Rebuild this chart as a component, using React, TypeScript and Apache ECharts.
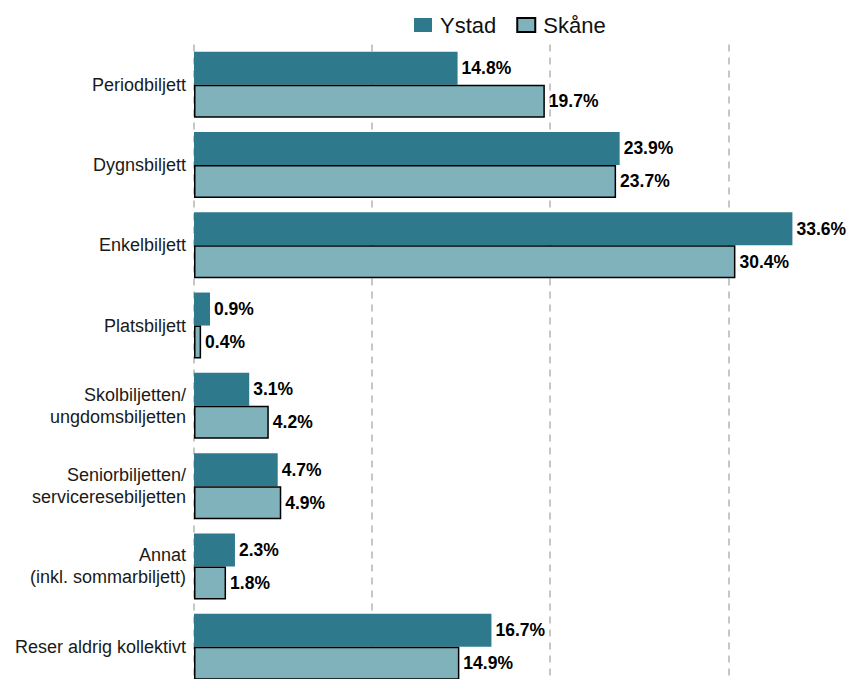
import React, { useEffect, useRef } from "react";
import * as echarts from "echarts";

const categories = [
  "Periodbiljett",
  "Dygnsbiljett",
  "Enkelbiljett",
  "Platsbiljett",
  "Skolbiljetten/\nungdomsbiljetten",
  "Seniorbiljetten/\nserviceresebiljetten",
  "Annat\n(inkl. sommarbiljett)",
  "Reser aldrig kollektivt",
];
const ystad = [14.8, 23.9, 33.6, 0.9, 3.1, 4.7, 2.3, 16.7];
const skane = [19.7, 23.7, 30.4, 0.4, 4.2, 4.9, 1.8, 14.9];
const seriesNames = ["Ystad", "Skåne"];

const FONT = "'Liberation Sans', Arial, Helvetica, sans-serif";

export default function App() {
  const ref = useRef<HTMLDivElement>(null);
  useEffect(() => {
    if (!ref.current) return;
    const chart = echarts.init(ref.current, undefined, { renderer: "svg" });
    const label = {
      show: true,
      position: "right" as const,
      distance: 4,
      formatter: (p: any) => p.value.toFixed(1) + "%",
      color: "#000",
      fontWeight: "bold" as const,
      fontSize: 17.5,
      fontFamily: FONT,
    };
    chart.setOption({
      animation: false,
      textStyle: { fontFamily: FONT },
      legend: {
        left: 409,
        top: 9,
        icon: "rect",
        itemWidth: 18,
        itemHeight: 14,
        itemGap: 20,
        textStyle: { fontSize: 22, color: "#111", fontFamily: FONT, padding: [0, 0, 0, 3] },
        data: seriesNames,
      },
      grid: { left: 194, right: 13.6, top: 44.5, bottom: 13.1, containLabel: false },
      xAxis: {
        type: "value",
        min: 0,
        max: 40,
        interval: 10,
        axisLabel: { show: false },
        axisLine: { show: false },
        axisTick: { show: false },
        splitLine: { show: true, lineStyle: { color: "#b5b5b5", width: 1.5, type: [7, 6] } },
      },
      yAxis: {
        type: "category",
        inverse: true,
        data: categories,
        axisLine: { show: false },
        axisTick: { show: false },
        axisLabel: { fontSize: 18, color: "#1a1a1a", margin: 8, lineHeight: 22, fontFamily: FONT, align: "right" },
      },
      series: [
        {
          name: seriesNames[0],
          type: "bar",
          data: ystad,
          barGap: "0%",
          barCategoryGap: "17.8%",
          itemStyle: { color: "#2E7A8C" },
          label,
        },
        {
          name: seriesNames[1],
          type: "bar",
          data: skane,
          barGap: "0%",
          barCategoryGap: "17.8%",
          itemStyle: { color: "#7FB2BB", borderColor: "#000", borderWidth: 1.5 },
          label,
        },
      ],
    });
    return () => chart.dispose();
  }, []);
  return (
    <div
      style={{ position: "fixed", left: 0, top: 0, width: 848, height: 679, overflow: "hidden", background: "#fff" }}
    >
      <div ref={ref} style={{ width: 920, height: 700 }} />
    </div>
  );
}
